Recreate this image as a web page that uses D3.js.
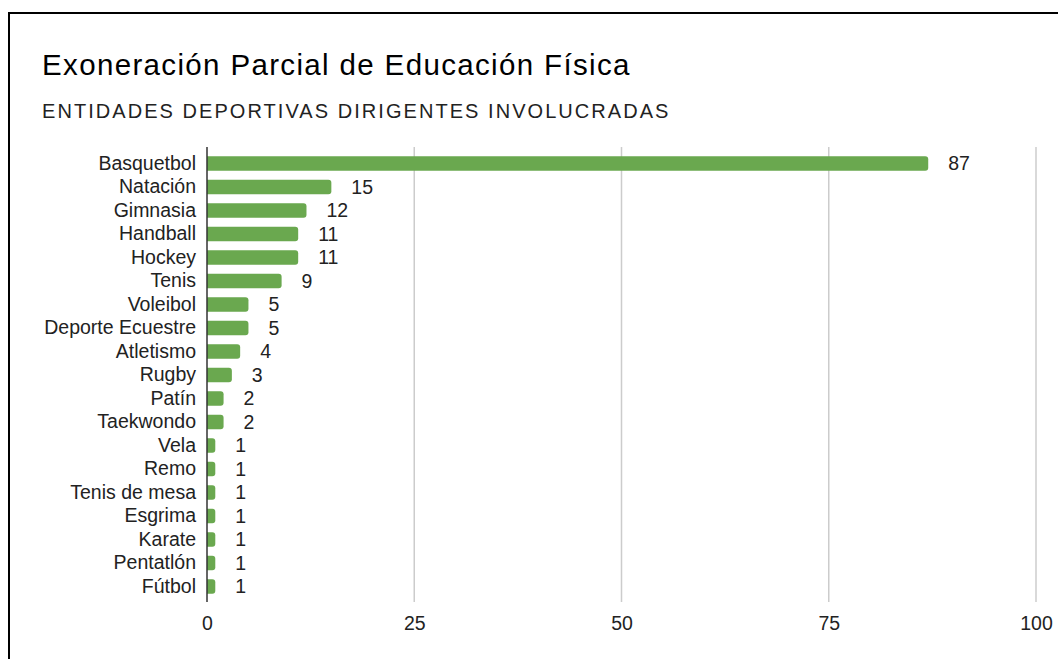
<!DOCTYPE html>
<html>
<head>
<meta charset="utf-8">
<script src="https://cdn.jsdelivr.net/npm/d3@7"></script>
<style>
  html, body { margin: 0; padding: 0; background: #fff; }
  svg { display: block; font-family: "Liberation Sans", Arial, sans-serif; }
</style>
</head>
<body>
<svg id="chart" width="1058" height="659"></svg>
<script>
const title = "Exoneración Parcial de Educación Física";
const subtitle = "ENTIDADES DEPORTIVAS DIRIGENTES INVOLUCRADAS";
const categories = ["Basquetbol","Natación","Gimnasia","Handball","Hockey","Tenis","Voleibol","Deporte Ecuestre","Atletismo","Rugby","Patín","Taekwondo","Vela","Remo","Tenis de mesa","Esgrima","Karate","Pentatlón","Fútbol"];
const values = [87,15,12,11,11,9,5,5,4,3,2,2,1,1,1,1,1,1,1];
const xTicks = [0,25,50,75,100];

const svg = d3.select("#chart");

// frame
svg.append("rect").attr("x", 9).attr("y", 13).attr("width", 1070).attr("height", 700)
  .attr("fill", "#fff").attr("stroke", "#000").attr("stroke-width", 2);

svg.append("text").attr("x", 42).attr("y", 75).attr("font-size", 29.5)
  .attr("letter-spacing", 1.35).attr("fill", "#000").text(title);
svg.append("text").attr("x", 42).attr("y", 118).attr("font-size", 20)
  .attr("letter-spacing", 2.05).attr("fill", "#222").text(subtitle);

const x = d3.scaleLinear().domain([0, 100]).range([207, 1036]);
const y = d3.scaleBand().domain(categories).range([151.75, 598.25]).paddingInner(0.38).paddingOuter(0.19);

const plotTop = 147, plotBottom = 602;

// gridlines
svg.append("g").selectAll("line").data(xTicks.filter(d => d !== 0)).join("line")
  .attr("x1", d => x(d)).attr("x2", d => x(d)).attr("y1", plotTop).attr("y2", plotBottom)
  .attr("stroke", "#cccccc").attr("stroke-width", 1.5);

// x tick labels
const xAxis = d3.axisBottom(x).tickValues(xTicks).tickSize(0).tickPadding(0);
const gx = svg.append("g").attr("transform", `translate(0, ${plotBottom + 14})`).call(xAxis);
gx.select(".domain").remove();
gx.selectAll("text").attr("font-size", 19.5).attr("fill", "#222").attr("font-family", "Liberation Sans, Arial, sans-serif");

// bars with rounded right end
const r = 3;
svg.append("g").selectAll("path").data(categories).join("path")
  .attr("fill", "#6aa84f")
  .attr("d", (c, i) => {
    const x0 = x(0), x1 = x(values[i]), y0 = y(c), h = y.bandwidth();
    const rr = Math.min(r, (x1 - x0) / 2, h / 2);
    return `M${x0},${y0} H${x1 - rr} Q${x1},${y0} ${x1},${y0 + rr} V${y0 + h - rr} Q${x1},${y0 + h} ${x1 - rr},${y0 + h} H${x0} Z`;
  });

// value labels
svg.append("g").selectAll("text").data(categories).join("text")
  .attr("x", (c, i) => x(values[i]) + 20)
  .attr("y", c => y(c) + y.bandwidth() / 2)
  .attr("dy", "0.35em")
  .attr("font-size", 19.5)
  .attr("fill", "#222")
  .text((c, i) => values[i]);

// y axis labels
const yAxis = d3.axisLeft(y).tickSize(0).tickPadding(11);
const gy = svg.append("g").attr("transform", `translate(${x(0)},0)`).call(yAxis);
gy.select(".domain").remove();
gy.selectAll("text").attr("font-size", 19.5).attr("fill", "#222").attr("font-family", "Liberation Sans, Arial, sans-serif");

// axis line
svg.append("line").attr("x1", x(0)).attr("x2", x(0)).attr("y1", plotTop).attr("y2", plotBottom)
  .attr("stroke", "#333").attr("stroke-width", 1.5);
</script>
</body>
</html>
